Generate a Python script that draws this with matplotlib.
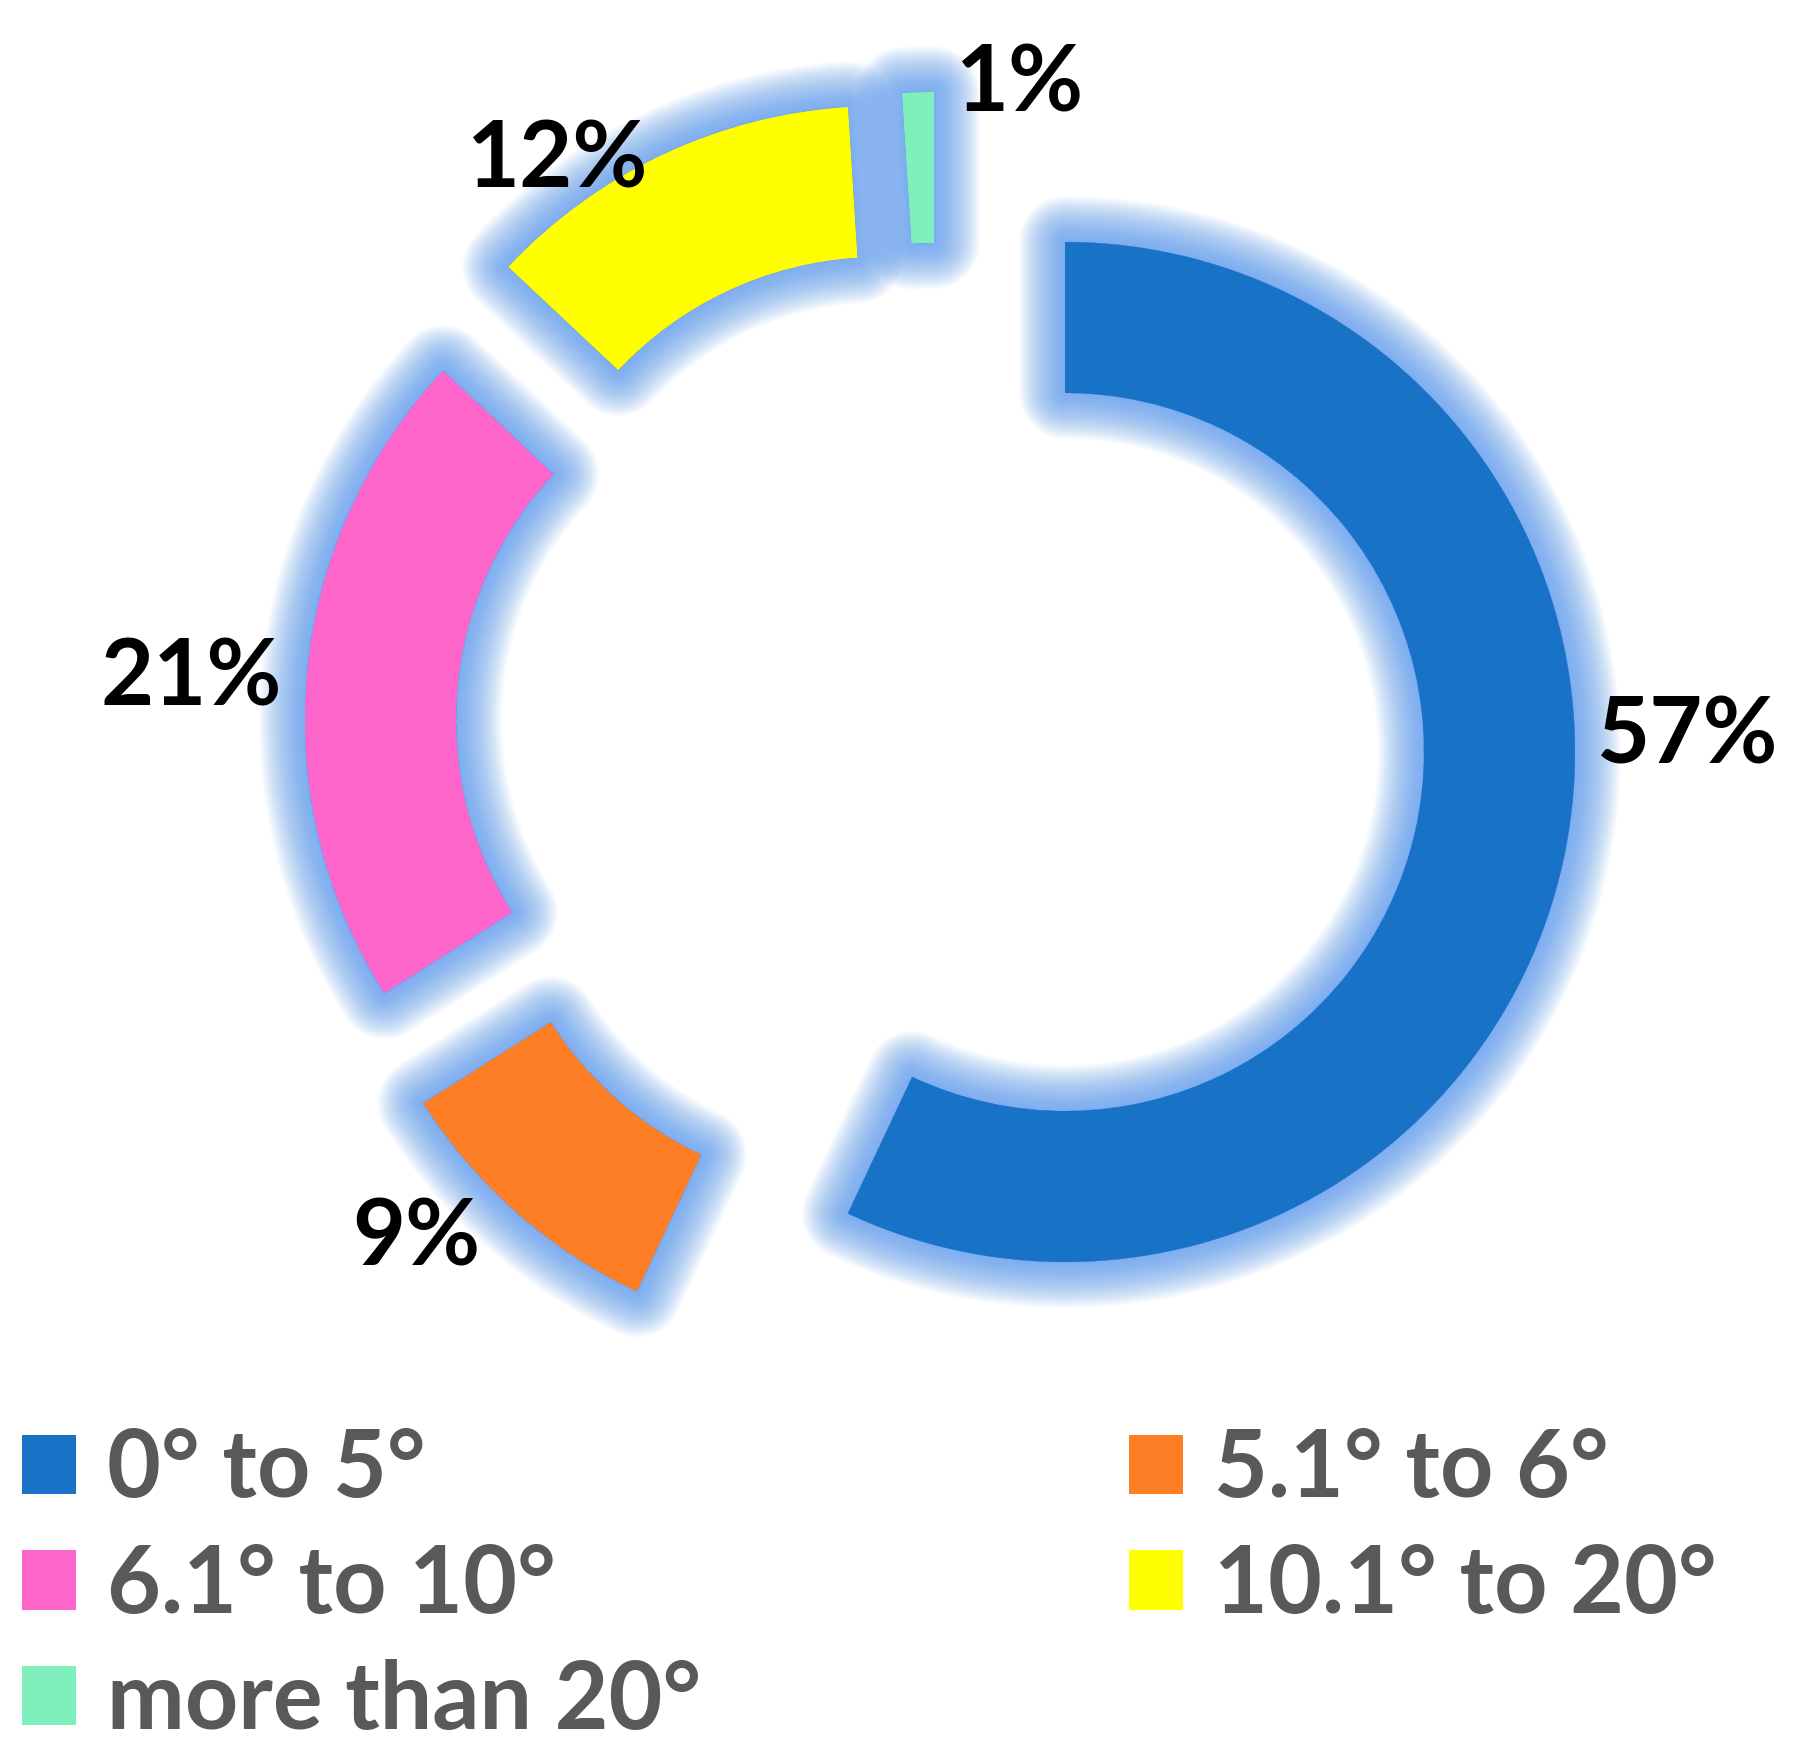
import matplotlib.pyplot as plt
from matplotlib.patches import Wedge

plt.rcParams['font.family'] = ['Lato', 'DejaVu Sans']

# data
categories = ['0° to 5°', '5.1° to 6°', '6.1° to 10°', '10.1° to 20°', 'more than 20°']
shares = [57, 9, 21, 12, 1]
colors = ['#1873c7', '#fd7e24', '#ff66cc', '#ffff00', '#7ff0bb']

# layout (pixel units, y up)
W, H = 1804, 1750
cx, cy = 1065, 998
R = 510
ring = 151
# each slice was dragged away by hand in the original
shift = [(0, 0), (-211, -78), (-250, 32), (-185, 136), (-131, 150)]
label_xy = [(1688, 1012), (416, 510), (191, 1071), (557, 1588), (1019, 1665)]
glow = '#5b9bf0'

fig = plt.figure(figsize=(W / 100, H / 100), dpi=100)
ax = fig.add_axes([0, 0, 1, 1])

wedges, _ = ax.pie(shares, colors=colors, startangle=90, counterclock=False,
                   radius=R, center=(cx, cy),
                   wedgeprops=dict(width=ring, linewidth=0))

for w, (dx, dy) in zip(wedges, shift):
    w.set_center((cx + dx, cy + dy))
    w.set_zorder(3)
    # soft blue glow behind the slice
    for lw in range(2, 68, 2):
        g = Wedge(w.center, w.r, w.theta1, w.theta2, width=w.width,
                  facecolor=glow, edgecolor=glow, linewidth=lw,
                  alpha=0.04, zorder=1, joinstyle='round')
        ax.add_patch(g)

for v, (x, y) in zip(shares, label_xy):
    ax.text(x, y, f'{v}%', ha='center', va='center', fontsize=66,
            fontweight='bold', color='black', zorder=5)

ax.set_xlim(0, W)
ax.set_ylim(0, H)
ax.axis('off')

# legend filled column by column
order = [0, 2, 4, 1, 3]
leg = ax.legend([wedges[i] for i in order], [categories[i] for i in order],
                ncol=2, loc='upper left', bbox_to_anchor=(22 / W, 1 - 1427 / H),
                frameon=False, fontsize=67, handlelength=0.58, handleheight=0.6,
                handletextpad=0.33, columnspacing=4.6, labelspacing=0.32,
                borderpad=0, borderaxespad=0)
for t in leg.get_texts():
    t.set_color('#595959')
    t.set_fontweight('bold')

fig.savefig('out.png', dpi=100)
